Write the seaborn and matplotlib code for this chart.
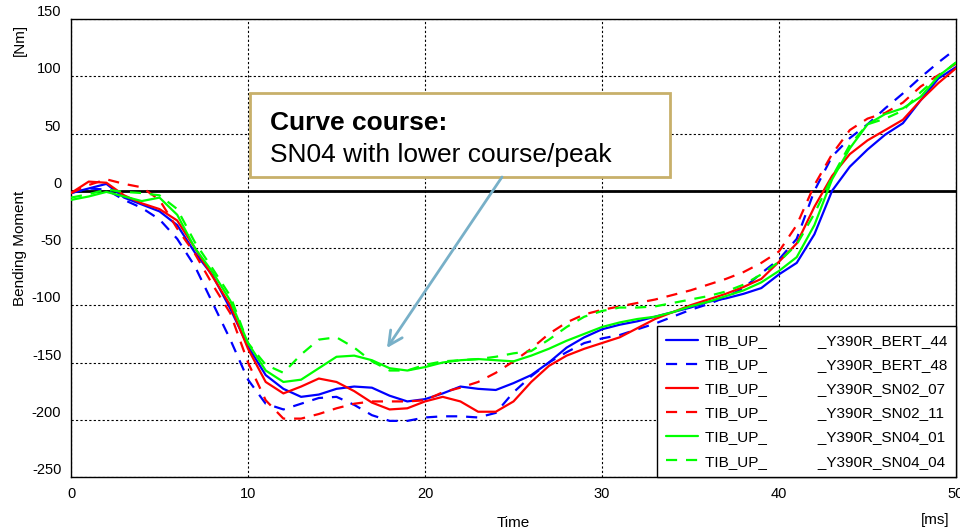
import numpy as np
import pandas as pd
import matplotlib
matplotlib.use("Agg")
import matplotlib.pyplot as plt
import seaborn as sns
from matplotlib.patches import Rectangle

# time axis [ms]
time_ms = list(range(0, 51))

# bending moment [Nm] at 1 ms steps
bert_44 = [-2, 2, 6, -6, -12, -18, -30, -54, -74, -103, -136, -161, -173, -180, -178, -173,
           -171, -172, -179, -184, -182, -177, -171, -173, -174, -168, -161, -150, -137, -128,
           -121, -117, -114, -110, -106, -102, -97, -94, -90, -85, -73, -63, -38, 0, 21, 36,
           49, 59, 79, 98, 108]
bert_48 = [-2, 2, 1, -8, -15, -25, -42, -66, -98, -130, -165, -186, -191, -186, -181, -180,
           -187, -196, -201, -201, -198, -197, -197, -198, -194, -176, -162, -150, -141, -133,
           -129, -126, -121, -116, -110, -104, -99, -93, -85, -72, -60, -42, 0, 30, 46, 58,
           72, 85, 99, 112, 124]
sn02_07 = [-2, 8, 7, -4, -11, -16, -26, -50, -75, -100, -138, -167, -177, -171, -164, -167,
           -175, -185, -191, -190, -184, -180, -184, -193, -193, -184, -167, -153, -144, -138,
           -133, -128, -120, -112, -106, -100, -95, -90, -84, -77, -62, -46, -14, 13, 32, 44,
           53, 62, 79, 94, 107]
sn02_11 = [-2, 5, 10, 6, 3, -8, -33, -55, -82, -107, -150, -183, -199, -199, -195, -190,
           -186, -184, -184, -184, -183, -176, -172, -167, -159, -149, -138, -125, -115, -108,
           -104, -101, -98, -95, -91, -87, -82, -77, -71, -63, -53, -30, 5, 32, 53, 63,
           68, 77, 91, 101, 111]
sn04_01 = [-8, -5, -1, -5, -9, -6, -21, -50, -71, -96, -133, -157, -167, -165, -155, -145,
           -144, -148, -155, -157, -154, -150, -148, -147, -148, -149, -144, -138, -131, -125,
           -119, -115, -112, -110, -106, -101, -97, -92, -87, -80, -70, -58, -30, 10, 37, 58,
           67, 72, 82, 100, 112]
sn04_04 = [-6, -3, 1, -1, -2, -4, -16, -45, -68, -92, -133, -152, -159, -143, -130, -128,
           -137, -149, -157, -157, -152, -149, -148, -147, -145, -142, -140, -130, -119, -110,
           -105, -102, -102, -101, -98, -95, -92, -88, -82, -73, -62, -47, -20, 12, 40, 58,
           63, 70, 86, 100, 112]

gap = " " * 12
names = ["TIB_UP_" + gap + "_Y390R_BERT_44", "TIB_UP_" + gap + "_Y390R_BERT_48",
         "TIB_UP_" + gap + "_Y390R_SN02_07", "TIB_UP_" + gap + "_Y390R_SN02_11",
         "TIB_UP_" + gap + "_Y390R_SN04_01", "TIB_UP_" + gap + "_Y390R_SN04_04"]
series = [bert_44, bert_48, sn02_07, sn02_11, sn04_01, sn04_04]

df = pd.concat([pd.DataFrame({"time": time_ms, "moment": s, "sim": n})
                for n, s in zip(names, series)], ignore_index=True)

colors = ["#0000ff", "#0000ff", "#ff0000", "#ff0000", "#00ff00", "#00ff00"]
palette = dict(zip(names, colors))
dashes = dict(zip(names, ["", (5, 4), "", (5, 4), "", (5, 4)]))

sns.set_style("white")
plt.rcParams["font.family"] = ["Liberation Sans", "DejaVu Sans"]
plt.rcParams["axes.unicode_minus"] = False
plt.rcParams["text.color"] = "black"
plt.rcParams["axes.labelcolor"] = "black"
plt.rcParams["xtick.color"] = "black"
plt.rcParams["ytick.color"] = "black"
narrow = ["Liberation Sans Narrow", "Liberation Sans"]

fig = plt.figure(figsize=(9.6, 5.31), dpi=100)
ax = fig.add_axes([0.07396, 0.1017, 0.92188, 0.8625])

ax.axhline(0, color="black", lw=2, zorder=1)
g = sns.lineplot(data=df, x="time", y="moment", hue="sim", style="sim",
                 palette=palette, dashes=dashes, linewidth=1.6, ax=ax, zorder=3)

ax.set_xlim(0, 50)
ax.set_ylim(-250, 150)
ax.set_xticks(range(0, 51, 10))
ax.set_yticks(range(-250, 151, 50))
ax.grid(True, color="black", linestyle=(0, (2, 2)), linewidth=0.8)
for s in ax.spines.values():
    s.set_color("black")
    s.set_linewidth(1.0)
ax.tick_params(direction="in", length=4, color="black", labelsize=10.5, pad=7)
for lab in ax.get_xticklabels() + ax.get_yticklabels():
    lab.set_family(narrow)
for lab in ax.get_yticklabels():
    lab.set_verticalalignment("bottom")

ax.set_xlabel("Time", fontsize=11, family=narrow, labelpad=11)
ax.set_ylabel("Bending Moment", fontsize=11)
ax.yaxis.set_label_coords(-0.05, 0.5)
ax.text(-0.0576, 0.955, "[Nm]", transform=ax.transAxes, rotation=90,
        ha="center", va="center", fontsize=11)
ax.text(0.976, -0.094, "[ms]", transform=ax.transAxes, ha="center", va="center",
        fontsize=11, family=narrow, clip_on=False)

# legend
handles, labels = ax.get_legend_handles_labels()
leg = ax.legend(handles, labels, loc="lower right", borderaxespad=0, fontsize=11,
                frameon=True, fancybox=False, framealpha=1, edgecolor="black",
                handlelength=2.1, handletextpad=0.5, labelspacing=0.66, borderpad=0.55,
                title=None)
leg.get_frame().set_linewidth(1.0)
leg.set_zorder(5)

# annotation box
ax.add_patch(Rectangle((0.2023, 0.655), 0.4746, 0.183, transform=ax.transAxes,
                       facecolor="white", edgecolor="#c8b06a", lw=2, zorder=6))
ax.text(0.2249, 0.7576, "Curve course:", transform=ax.transAxes, fontsize=19,
        fontweight="bold", va="baseline", ha="left", zorder=7)
ax.text(0.2249, 0.6878, "SN04 with lower course/peak", transform=ax.transAxes,
        fontsize=19, va="baseline", ha="left", zorder=7)
ax.annotate("", xy=(0.357, 0.2817), xytext=(0.487, 0.655),
            xycoords="axes fraction", textcoords="axes fraction",
            arrowprops=dict(arrowstyle="->,head_length=1.0,head_width=0.5",
                            color="#78b0c8", lw=2, shrinkA=0, shrinkB=0), zorder=6)

fig.savefig("out.png", dpi=100)
plt.close()
